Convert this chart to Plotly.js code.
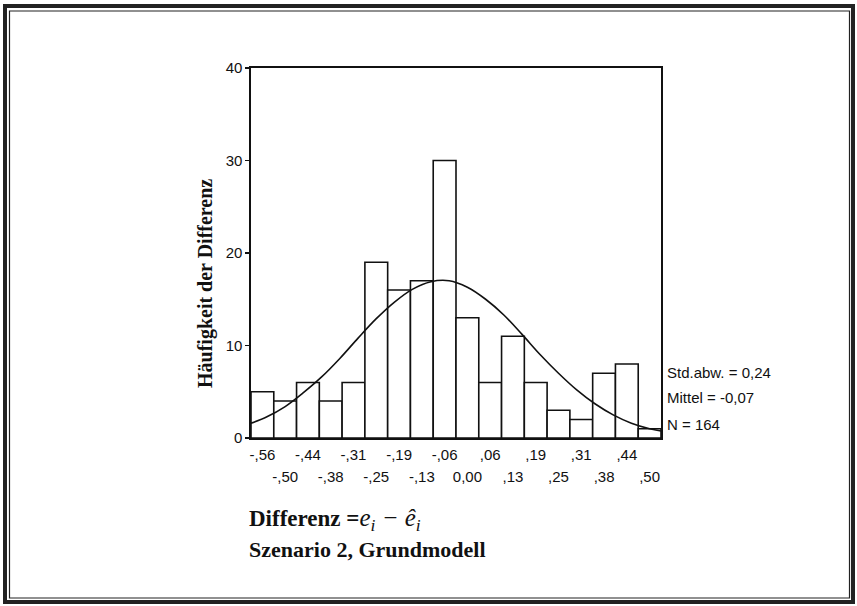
<!DOCTYPE html>
<html>
<head>
<meta charset="utf-8">
<script src="https://cdn.plot.ly/plotly-3.0.1.min.js"></script>
<style>html,body{margin:0;padding:0;background:#fff;}#chart{width:857px;height:606px;}</style>
</head>
<body>
<div id="chart"></div>
<script>
// Histogram bins (centers) and counts
const binCenters = [-0.5625,-0.5,-0.4375,-0.375,-0.3125,-0.25,-0.1875,-0.125,-0.0625,0,0.0625,0.125,0.1875,0.25,0.3125,0.375,0.4375,0.5];
const counts     = [5,4,6,4,6,19,16,17,30,13,6,11,6,3,2,7,8,1];
const tickLabels = ["-,56","-,50","-,44","-,38","-,31","-,25","-,19","-,13","-,06","0,00",",06",",13",",19",",25",",31",",38",",44",",50"];
// Normal curve, values
const curveX = [-0.594,-0.55,-0.5,-0.45,-0.4,-0.35,-0.3,-0.25,-0.2,-0.15,-0.1,-0.05,0,0.05,0.1,0.15,0.2,0.25,0.3,0.35,0.4,0.45,0.5,0.531];
const curveY = [1.6,2.3,3.4,4.9,6.6,8.6,10.8,12.9,14.7,16.1,16.9,17.0,16.3,15.0,13.3,11.2,9.0,7.0,5.2,3.7,2.5,1.6,1.0,0.75];
const statLines = ["Std.abw. = 0,24","Mittel = -0,07","N = 164"];
const yTicks = [0,10,20,30,40];

const row1Vals = binCenters.filter((v,i)=>i%2===0);
const row1Text = tickLabels.filter((v,i)=>i%2===0);
const row2Vals = binCenters.filter((v,i)=>i%2===1);
const row2Text = tickLabels.filter((v,i)=>i%2===1);

const xr = [-0.59375, 0.53125];
const sans = "Liberation Sans, Arial, sans-serif";
const serif = "Liberation Serif, Times New Roman, serif";

const traces = [
  {type:'bar', x:binCenters, y:counts, width:0.0625,
   marker:{color:'#ffffff', line:{color:'#111', width:1.6}}, hoverinfo:'skip'},
  {type:'scatter', mode:'lines', x:curveX, y:curveY, line:{color:'#111', width:1.6, shape:'spline'}, hoverinfo:'skip'},
  // invisible copy on the second (label-only) x axis so that it gets drawn
  {type:'scatter', mode:'markers', x:binCenters, y:counts, xaxis:'x2', yaxis:'y',
   marker:{opacity:0, size:1}, hoverinfo:'skip'}
];

// pixel -> paper helpers (plot area: x 251..661, y 68..438)
const px = v => (v-251)/410;
const py = v => (438-v)/370;

const tickFont = {family:sans, size:15, color:'#111'};

const layout = {
  width:857, height:606,
  margin:{l:251, r:196, t:68, b:168},
  paper_bgcolor:'#fff', plot_bgcolor:'#fff',
  showlegend:false, bargap:0,
  xaxis:{range:xr, showgrid:false, zeroline:false, showline:true, mirror:true, linecolor:'#111', linewidth:1.6,
         tickmode:'array', tickvals:row1Vals, ticktext:row1Text, ticks:'',
         tickfont:tickFont, ticklabelstandoff:2, fixedrange:true},
  xaxis2:{range:xr, overlaying:'x', anchor:'y', side:'bottom', showgrid:false, zeroline:false, showline:false,
         tickmode:'array', tickvals:row2Vals, ticktext:row2Text, ticks:'',
         tickfont:tickFont, ticklabelstandoff:28, fixedrange:true},
  yaxis:{range:[0,40], showgrid:false, zeroline:false, showline:true, mirror:true, linecolor:'#111', linewidth:1.6,
         tickmode:'array', tickvals:yTicks, ticks:'outside', ticklen:4, tickwidth:1.5, tickcolor:'#111',
         tickfont:{family:sans, size:15, color:'#111'}, fixedrange:true},
  annotations:[
    {xref:'paper', yref:'paper', x:px(205), y:py(284), text:'<b>Häufigkeit der Differenz</b>', textangle:-90,
     showarrow:false, font:{family:serif, size:20, color:'#111'}, xanchor:'center', yanchor:'middle'},
    {xref:'paper', yref:'paper', x:px(247), y:py(519), xanchor:'left', yanchor:'middle', showarrow:false,
     text:'<b>Differenz =</b><span style="font-style:italic;font-size:25px">e<sub>i</sub> − ê<sub>i</sub></span>',
     font:{family:serif, size:23, color:'#111'}},
    {xref:'paper', yref:'paper', x:px(247), y:py(549), xanchor:'left', yanchor:'middle', showarrow:false,
     text:'<b>Szenario 2, Grundmodell</b>', font:{family:serif, size:22, color:'#111'}},
    {xref:'paper', yref:'paper', x:px(665), y:py(372), xanchor:'left', yanchor:'middle', showarrow:false,
     text:statLines[0], font:{family:sans, size:15, color:'#111'}},
    {xref:'paper', yref:'paper', x:px(665), y:py(397), xanchor:'left', yanchor:'middle', showarrow:false,
     text:statLines[1], font:{family:sans, size:15, color:'#111'}},
    {xref:'paper', yref:'paper', x:px(665), y:py(424), xanchor:'left', yanchor:'middle', showarrow:false,
     text:statLines[2], font:{family:sans, size:15, color:'#111'}}
  ],
  shapes:[
    {type:'rect', xref:'paper', yref:'paper', x0:px(5), x1:px(853), y0:py(602), y1:py(6), line:{color:'#222', width:4}},
    {type:'rect', xref:'paper', yref:'paper', x0:px(9.5), x1:px(849.5), y0:py(598), y1:py(11), line:{color:'#222', width:1.2}}
  ]
};

Plotly.newPlot('chart', traces, layout, {displayModeBar:false, staticPlot:true});
</script>
</body>
</html>
